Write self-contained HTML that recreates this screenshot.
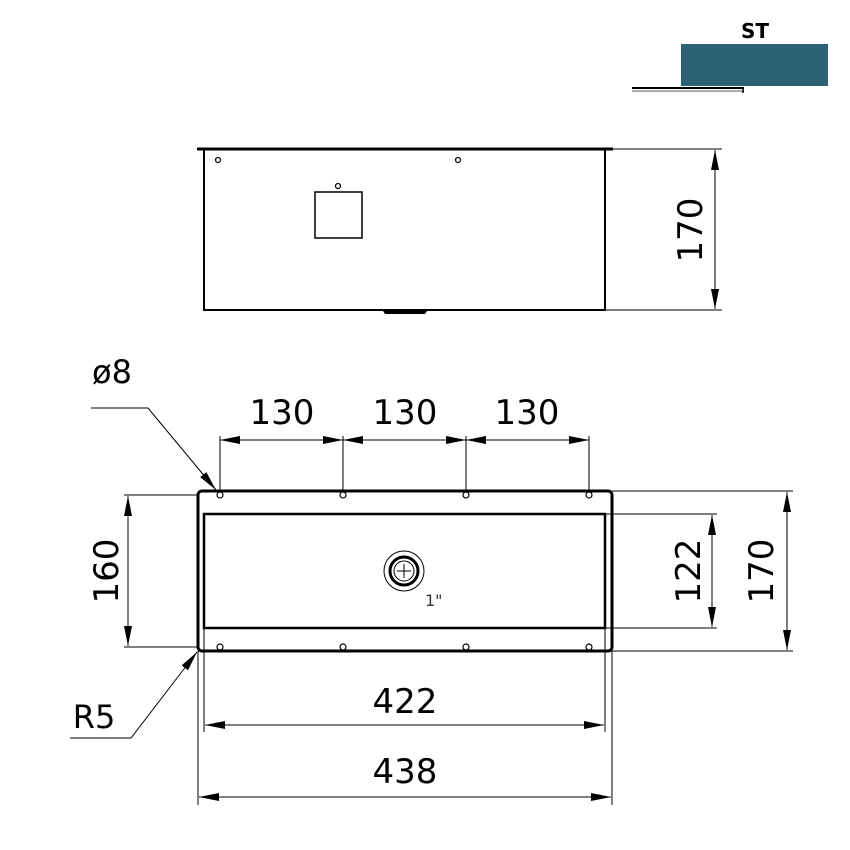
<!DOCTYPE html>
<html><head><meta charset="utf-8"><style>html,body{margin:0;padding:0;background:#fff}svg{display:block}</style></head><body>
<svg width="850" height="850" viewBox="0 0 850 850" xmlns="http://www.w3.org/2000/svg" font-family="'DejaVu Sans','Liberation Sans',sans-serif">
<defs>
<marker id="a" viewBox="0 0 20 8" refX="20" refY="4" markerWidth="20" markerHeight="8" markerUnits="userSpaceOnUse" orient="auto-start-reverse"><path d="M0,0 L20,4 L0,8 Z" fill="#000"/></marker>
</defs>
<!-- ST -->
<text x="755" y="38" font-size="20" font-weight="bold" text-anchor="middle" font-family="'DejaVu Sans',sans-serif">ST</text>
<rect x="681" y="44" width="147" height="42" fill="#2c6176"/>
<line x1="632" y1="88" x2="744" y2="88" stroke="#000" stroke-width="2"/>
<line x1="632" y1="91" x2="744" y2="91" stroke="#aaa" stroke-width="2"/>
<line x1="743" y1="87" x2="743" y2="93" stroke="#000" stroke-width="1.5"/>
<!-- top view -->
<g stroke="#000" fill="none">
<line x1="197" y1="149" x2="613" y2="149" stroke-width="3"/>
<rect x="204" y="149" width="401" height="161" stroke-width="2"/>
<rect x="315" y="192" width="47" height="46" stroke-width="1.5"/>
<circle cx="218" cy="160" r="2.5" stroke-width="1.2"/>
<circle cx="458" cy="160" r="2.5" stroke-width="1.2"/>
<circle cx="338" cy="186" r="2.5" stroke-width="1.2"/>
<line x1="613" y1="149" x2="722" y2="149" stroke-width="1"/>
<line x1="605" y1="310" x2="722" y2="310" stroke-width="1"/>
<line x1="715" y1="150" x2="715" y2="309" stroke-width="1" marker-start="url(#a)" marker-end="url(#a)"/>
</g>
<path d="M383,311 L427,311 L425,314 L385,314 Z" fill="#000"/>
<text transform="translate(702,230) rotate(-90)" font-size="34" text-anchor="middle">170</text>
<!-- bottom view -->
<g stroke="#000" fill="none">
<rect x="198" y="491" width="414" height="160" rx="4" stroke-width="3"/>
<rect x="204" y="514" width="401" height="114" stroke-width="2.5"/>
<g stroke-width="1.2">
<circle cx="220" cy="495" r="3"/><circle cx="343" cy="495" r="3"/><circle cx="466" cy="495" r="3"/><circle cx="589" cy="495" r="3"/>
<circle cx="220" cy="647" r="3"/><circle cx="343" cy="647" r="3"/><circle cx="466" cy="647" r="3"/><circle cx="589" cy="647" r="3"/>
</g>
<circle cx="404" cy="571" r="20" stroke-width="1"/>
<circle cx="404" cy="571" r="14" stroke-width="3"/>
<circle cx="404" cy="571" r="10" stroke-width="1"/>
<line x1="397" y1="571" x2="411" y2="571" stroke-width="1"/>
<line x1="404" y1="564" x2="404" y2="578" stroke-width="1"/>
<g stroke-width="1">
<line x1="220" y1="436" x2="220" y2="492"/><line x1="343" y1="436" x2="343" y2="492"/><line x1="466" y1="436" x2="466" y2="492"/><line x1="589" y1="436" x2="589" y2="492"/>
<line x1="220" y1="440" x2="343" y2="440" marker-start="url(#a)" marker-end="url(#a)"/>
<line x1="343" y1="440" x2="466" y2="440" marker-start="url(#a)" marker-end="url(#a)"/>
<line x1="466" y1="440" x2="589" y2="440" marker-start="url(#a)" marker-end="url(#a)"/>
<line x1="124" y1="495" x2="198" y2="495"/><line x1="124" y1="647" x2="198" y2="647"/>
<line x1="128" y1="496" x2="128" y2="646" marker-start="url(#a)" marker-end="url(#a)"/>
<line x1="612" y1="491" x2="793" y2="491"/><line x1="612" y1="651" x2="793" y2="651"/>
<line x1="605" y1="514" x2="717" y2="514"/><line x1="605" y1="628" x2="717" y2="628"/>
<line x1="712" y1="515" x2="712" y2="627" marker-start="url(#a)" marker-end="url(#a)"/>
<line x1="787" y1="492" x2="787" y2="650" marker-start="url(#a)" marker-end="url(#a)"/>
<line x1="198" y1="651" x2="198" y2="805"/><line x1="612" y1="651" x2="612" y2="805"/>
<line x1="204" y1="628" x2="204" y2="732"/><line x1="605" y1="628" x2="605" y2="732"/>
<line x1="205" y1="725" x2="604" y2="725" marker-start="url(#a)" marker-end="url(#a)"/>
<line x1="199" y1="797" x2="611" y2="797" marker-start="url(#a)" marker-end="url(#a)"/>
<polyline points="91,408 148,408 216,490" marker-end="url(#a)"/>
<polyline points="70,738 131,738 197,652" marker-end="url(#a)"/>
</g>
</g>
<g font-size="34" text-anchor="middle">
<text x="282" y="424">130</text>
<text x="405" y="424">130</text>
<text x="527" y="424">130</text>
<text x="405" y="713">422</text>
<text x="405" y="783">438</text>
<text x="112" y="383" font-size="32">ø8</text>
<text x="94" y="728" font-size="32">R5</text>
<text transform="translate(118,571) rotate(-90)">160</text>
<text transform="translate(700,571) rotate(-90)">122</text>
<text transform="translate(773,571) rotate(-90)">170</text>
</g>
<text x="425" y="606" font-size="16" fill="#333">1"</text>
</svg>
</body></html>
